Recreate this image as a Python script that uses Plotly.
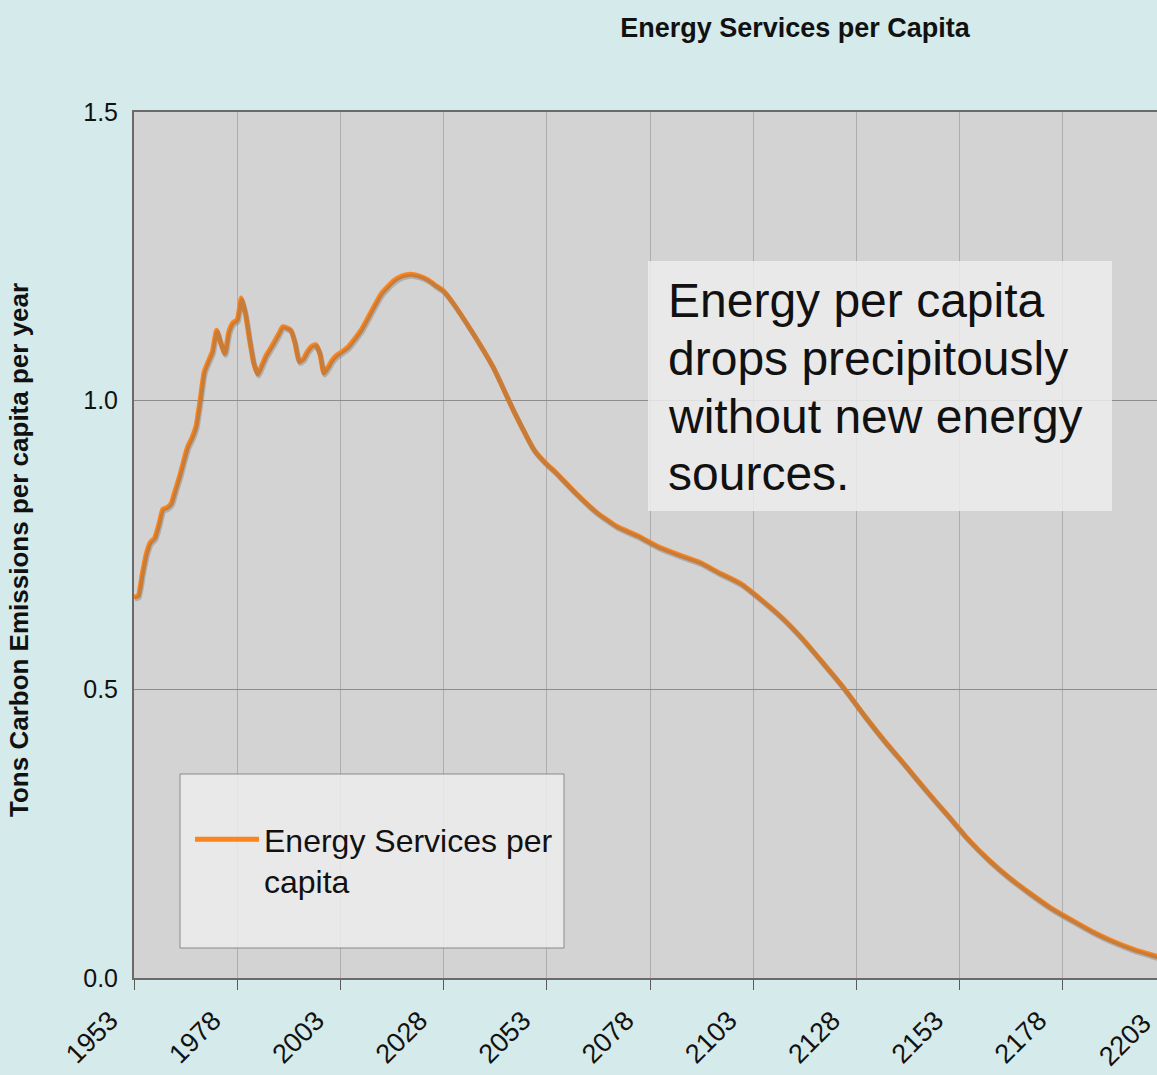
import plotly.graph_objects as go

# Energy services per capita (tons carbon emissions per capita per year)
years = [
    1953, 1954, 1955, 1956, 1957, 1958, 1959, 1960, 1961, 1962,
    1963, 1964, 1965, 1966, 1967, 1968, 1969, 1970, 1971, 1972,
    1973, 1974, 1975, 1976, 1977, 1978, 1979, 1980, 1981, 1982,
    1983, 1984, 1985, 1986, 1987, 1988, 1989, 1990, 1991, 1992,
    1993, 1994, 1995, 1996, 1997, 1998, 1999, 2000, 2001, 2002,
    2003, 2005, 2008, 2010, 2013, 2016, 2018, 2020, 2022, 2024,
    2026, 2028, 2030, 2035, 2040, 2045, 2050, 2053, 2055, 2060,
    2065, 2070, 2075, 2080, 2085, 2090, 2095, 2100, 2105, 2110,
    2115, 2120, 2125, 2130, 2135, 2140, 2145, 2150, 2155, 2160,
    2165, 2170, 2175, 2180, 2185, 2190, 2195, 2200, 2203,
]
energy_per_capita = [
    0.660, 0.662, 0.700, 0.735, 0.755, 0.762, 0.785, 0.812, 0.815, 0.822,
    0.845, 0.868, 0.895, 0.920, 0.935, 0.955, 1.000, 1.050, 1.068, 1.085,
    1.122, 1.100, 1.082, 1.120, 1.135, 1.140, 1.178, 1.150, 1.105, 1.065,
    1.046, 1.062, 1.078, 1.090, 1.102, 1.115, 1.128, 1.126, 1.122, 1.100,
    1.068, 1.072, 1.085, 1.094, 1.097, 1.082, 1.048, 1.058, 1.070, 1.078,
    1.083, 1.094, 1.122, 1.148, 1.186, 1.208, 1.216, 1.219, 1.216, 1.210,
    1.200, 1.190, 1.172, 1.118, 1.058, 0.982, 0.914, 0.890, 0.877, 0.840,
    0.807, 0.782, 0.766, 0.747, 0.733, 0.720, 0.701, 0.683, 0.655, 0.624,
    0.587, 0.545, 0.502, 0.454, 0.409, 0.367, 0.324, 0.283, 0.241, 0.205,
    0.174, 0.147, 0.122, 0.101, 0.081, 0.064, 0.050, 0.039, 0.033,
]

tick_years = [1953, 1978, 2003, 2028, 2053, 2078, 2103, 2128, 2153, 2178, 2203]
y_ticks = [0.0, 0.5, 1.0, 1.5]

chart_title = "Energy Services per Capita"
y_title = "Tons Carbon Emissions per capita per year"
series_name = "Energy Services per<br>capita"
note_lines = ["Energy per capita", "drops precipitously", "without new energy", "sources."]

# Page geometry (pixels)
W, H = 1157, 1075
PL, PR, PT, PB = 134, 1157, 112, 978
PX_PER_YEAR = 4.128
X_MIN = tick_years[0]
X_MAX = X_MIN + (PR - PL) / PX_PER_YEAR
Y_MIN, Y_MAX = 0.0, 1.5


def fx(px):
    return (px - PL) / (PR - PL)


def fy(py):
    return (PB - py) / (PB - PT)


FONT = "Liberation Sans, Arial, sans-serif"
ORANGE = "#fb841c"
TEXT = "#111111"
TICK_SIZE = 27

fig = go.Figure()

# soft drop shadow under the line: same data on an overlaid axis pair nudged a couple of pixels
dx_years = 1.0 / PX_PER_YEAR
dy_units = 2.0 * (Y_MAX - Y_MIN) / (PB - PT)
fig.add_trace(go.Scatter(
    x=years, y=energy_per_capita, mode="lines",
    line=dict(color="rgba(110,110,110,0.35)", width=5, shape="spline", smoothing=0.5),
    xaxis="x2", yaxis="y2", showlegend=False, hoverinfo="skip",
))

fig.add_trace(go.Scatter(
    x=years, y=energy_per_capita, mode="lines", name=series_name,
    line=dict(color=ORANGE, width=5, shape="spline", smoothing=0.5),
))

fig.update_layout(
    width=W, height=H,
    margin=dict(l=PL, r=W - PR, t=PT, b=H - PB, pad=0, autoexpand=False),
    paper_bgcolor="#d5eaea",
    plot_bgcolor="#d3d3d3",
    font=dict(family=FONT, color=TEXT),
    title=dict(
        text="<b>" + chart_title + "</b>",
        x=795 / W, xanchor="center", xref="container",
        y=1 - 28 / H, yanchor="middle",
        font=dict(size=27, family=FONT, color=TEXT),
    ),
    showlegend=True,
    legend=dict(
        x=fx(190), y=fy(812), xanchor="left", yanchor="top",
        bgcolor="rgba(0,0,0,0)", borderwidth=0,
        font=dict(size=32, family=FONT, color=TEXT),
        valign="top", itemwidth=64,
    ),
    xaxis=dict(
        range=[X_MIN, X_MAX], automargin=False,
        tickmode="array", tickvals=tick_years, ticktext=[str(t) for t in tick_years],
        tickangle=-45, tickfont=dict(size=TICK_SIZE, family=FONT, color=TEXT),
        ticklabelshift=-24, ticklabelstandoff=4,
        ticks="outside", ticklen=10, tickcolor="#5a5a5a", tickwidth=1,
        showgrid=True, gridcolor="#adadad", gridwidth=1,
        showline=True, linecolor="#6a6a6a", linewidth=2, mirror=True,
        zeroline=False,
    ),
    yaxis=dict(
        range=[Y_MIN, Y_MAX], automargin=False,
        tickmode="array", tickvals=y_ticks, ticktext=[f"{v:.1f}" for v in y_ticks],
        tickfont=dict(size=25, family=FONT, color=TEXT),
        ticks="", ticklabelstandoff=9,
        showgrid=True, gridcolor="#8c8c8c", gridwidth=1,
        showline=True, linecolor="#6a6a6a", linewidth=2,
        zeroline=False,
    ),
    xaxis2=dict(
        range=[X_MIN - dx_years, X_MAX - dx_years], overlaying="x",
        visible=False, showgrid=False, automargin=False,
    ),
    yaxis2=dict(
        range=[Y_MIN + dy_units, Y_MAX + dy_units], overlaying="y",
        visible=False, showgrid=False, automargin=False,
    ),
)

# y axis title
fig.add_annotation(
    text="<b>" + y_title + "</b>", textangle=-90,
    xref="paper", yref="paper", x=fx(19), y=fy(550),
    xanchor="center", yanchor="middle", showarrow=False,
    font=dict(size=26, family=FONT, color=TEXT),
)

# last tick label sits just past the right edge of the plot area
fig.add_annotation(
    text=str(tick_years[-1]), textangle=-45,
    xref="paper", yref="paper", x=fx(1125), y=fy(1040),
    xanchor="center", yanchor="middle", showarrow=False,
    font=dict(size=TICK_SIZE, family=FONT, color=TEXT),
)

# legend panel
fig.add_shape(
    type="rect", xref="paper", yref="paper",
    x0=fx(180), x1=fx(564), y0=fy(948), y1=fy(774),
    fillcolor="rgba(236,236,236,0.85)", line=dict(color="#8a8a8a", width=1),
    layer="above",
)

# note panel
fig.add_shape(
    type="rect", xref="paper", yref="paper",
    x0=fx(648), x1=fx(1112), y0=fy(511), y1=fy(261),
    fillcolor="rgba(236,236,236,0.85)", line=dict(width=0),
    layer="above",
)

NOTE_SIZE = 48
baselines = [317, 375, 433, 490]
for line, base in zip(note_lines, baselines):
    fig.add_annotation(
        text=line, xref="paper", yref="paper",
        x=fx(666), y=fy(base - 0.3465 * NOTE_SIZE),
        xanchor="left", yanchor="middle", showarrow=False,
        font=dict(size=NOTE_SIZE, family=FONT, color=TEXT),
    )

fig.write_html("out.html")
